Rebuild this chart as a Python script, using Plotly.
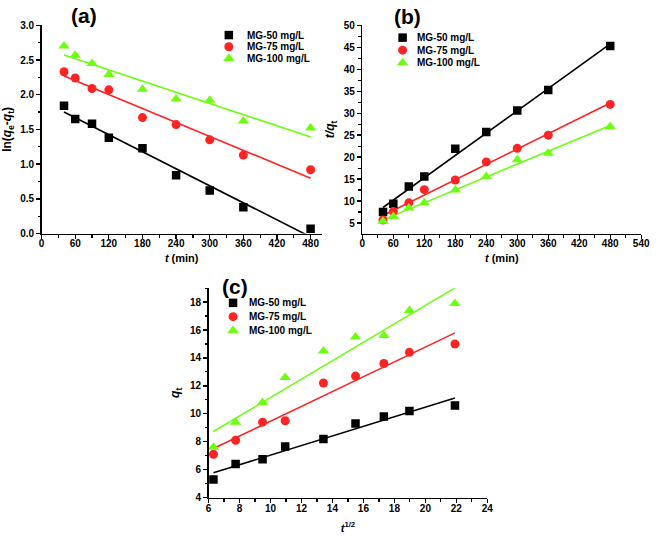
import numpy as np
import plotly.graph_objects as go

# ---------------- data ----------------
series_names = ["MG-50 mg/L", "MG-75 mg/L", "MG-100 mg/L"]
t_min = [40, 60, 90, 120, 180, 240, 300, 360, 480]

# (a) pseudo-first-order: ln(qe - qt)
a_mg50 = [1.84, 1.65, 1.58, 1.38, 1.23, 0.84, 0.62, 0.38, 0.07]
a_mg75 = [2.33, 2.24, 2.09, 2.07, 1.67, 1.57, 1.35, 1.13, 0.92]
a_mg100 = [2.70, 2.57, 2.45, 2.29, 2.08, 1.94, 1.92, 1.62, 1.52]

# (b) pseudo-second-order: t/qt
b_mg50 = [7.5, 9.4, 13.3, 15.6, 21.9, 25.7, 30.6, 35.3, 45.3]
b_mg75 = [5.7, 7.6, 9.6, 12.6, 14.8, 18.9, 22.0, 25.0, 32.0]
b_mg100 = [5.4, 6.5, 8.4, 9.6, 12.5, 15.6, 19.4, 20.9, 26.9]

# (c) intraparticle diffusion: qt vs t^1/2
c_sqrt_t = [6.32, 7.75, 9.49, 10.95, 13.42, 15.49, 17.32, 18.97, 21.91]
c_mg50 = [5.3, 6.4, 6.75, 7.65, 8.2, 9.3, 9.8, 10.2, 10.6]
c_mg75 = [7.1, 8.1, 9.4, 9.5, 12.2, 12.7, 13.6, 14.4, 15.0]
c_mg100 = [7.6, 9.4, 10.8, 12.6, 14.5, 15.5, 15.6, 17.4, 17.9]

# ---------------- styles ----------------
colors = ["#000000", "#ff2424", "#6cff10"]
symbols = ["square", "circle", "triangle-up"]
msizes = [8.5, 9, 10]
FONT = "Liberation Sans, Arial, sans-serif"

W, H = 661, 543

fig = go.Figure()

panels = [
    ("x", "y", t_min, [a_mg50, a_mg75, a_mg100]),
    ("x2", "y2", t_min, [b_mg50, b_mg75, b_mg100]),
    ("x3", "y3", c_sqrt_t, [c_mg50, c_mg75, c_mg100]),
]

for xa, ya, xs, ys_list in panels:
    xarr = np.array(xs, dtype=float)
    for i, ys in enumerate(ys_list):
        yarr = np.array(ys, dtype=float)
        k, b = np.polyfit(xarr, yarr, 1)
        xl = np.array([xarr.min(), xarr.max()])
        fig.add_trace(go.Scatter(
            x=xl, y=k * xl + b, mode="lines", xaxis=xa, yaxis=ya,
            line=dict(color=colors[i], width=1.6), showlegend=False,
            hoverinfo="skip"))
    for i, ys in enumerate(ys_list):
        fig.add_trace(go.Scatter(
            x=xs, y=ys, mode="markers", xaxis=xa, yaxis=ya,
            marker=dict(symbol=symbols[i], size=msizes[i], color=colors[i],
                        line=dict(width=0)),
            name=series_names[i], showlegend=False))

# ---------------- manual legends (pixel layout on an overlay axis) ----------------
legend_anchors = [  # (marker x, first row y, row gap, text offset)
    (230, 30.7, 11.9, 16),
    (407, 33.3, 12.8, 13),
    (234.3, 304, 14.1, 14),
]
ann = []
for (lx, ly, gap, off) in legend_anchors:
    for i, nm in enumerate(series_names):
        yy = ly + i * gap
        fig.add_trace(go.Scatter(
            x=[lx], y=[yy], mode="markers", xaxis="x4", yaxis="y4",
            marker=dict(symbol=symbols[i], size=msizes[i], color=colors[i],
                        line=dict(width=0)),
            showlegend=False, hoverinfo="skip"))
        ann.append(dict(x=(lx + off) / W, y=1 - yy / H, xref="paper", yref="paper",
                        text=nm, showarrow=False, xanchor="left", yanchor="middle",
                        font=dict(family=FONT, size=10, color="black", weight="bold")))

# panel labels
for lab, px, py in [("(a)", 83, 11), ("(b)", 412, 12), ("(c)", 236, 287)]:
    ann.append(dict(x=px / W, y=1 - py / H, xref="paper", yref="paper", text=lab,
                    showarrow=False, xanchor="center", yanchor="middle",
                    font=dict(family=FONT, size=21, color="black", weight="bold")))

tickfont = dict(family=FONT, size=10, color="black", weight="bold")
xtitlefont = dict(family=FONT, size=11, color="black", weight="bold")
ytitlefont = dict(family=FONT, size=12, color="black", weight="bold")


def axis(domain, rng, dtick, minor_dtick, title, anchor, tickformat=None,
         tick0=0, standoff=6, labshift=0, tfont=xtitlefont):
    d = dict(domain=domain, range=rng, dtick=dtick, tick0=tick0, tickmode="linear",
             showline=True, linecolor="black", linewidth=1.5, mirror=False,
             ticks="outside", ticklen=4, tickwidth=1.3, tickcolor="black",
             minor=dict(dtick=minor_dtick, ticks="outside", ticklen=2.5,
                        tickwidth=1.2, tickcolor="black", showgrid=False),
             showgrid=False, zeroline=False, tickfont=tickfont, anchor=anchor,
             ticklabelstandoff=labshift,
             title=dict(text=title, font=tfont, standoff=standoff))
    if tickformat:
        d["tickformat"] = tickformat
    return d


ya_dom = [1 - 233.3 / H, 1 - 20.7 / H]
fig.update_layout(
    width=W, height=H, margin=dict(l=0, r=0, t=0, b=0),
    paper_bgcolor="white", plot_bgcolor="rgba(0,0,0,0)",
    font=dict(family=FONT, color="black"),
    showlegend=False, hovermode=False,
    xaxis=axis([39.3 / W, 324.7 / W], [0, 500], 60, 30, "<i>t</i> (min)", "y",
               labshift=-4, standoff=6),
    yaxis=axis(ya_dom, [0, 3.0], 0.5, 0.25,
               "ln(<i>q</i><sub>e</sub>-<i>q</i><sub>t</sub>)", "x", ".1f",
               standoff=7, tfont=ytitlefont),
    xaxis2=axis([366 / W, 650 / W], [0, 540], 60, 30, "<i>t</i> (min)", "y2",
                labshift=-4, standoff=6),
    yaxis2=axis(ya_dom, [2.6, 50], 5, 2.5, "<i>t/q</i><sub>t</sub>", "x2", tick0=0,
                standoff=6, tfont=ytitlefont),
    xaxis3=axis([209.3 / W, 493.3 / W], [6, 24], 2, 1, "<i>t</i><sup>1/2</sup>", "y3",
                labshift=-3, standoff=11),
    yaxis3=axis([1 - 502.7 / H, 1 - 289 / H], [4, 19], 2, 1, "<i>q</i><sub>t</sub>", "x3",
                standoff=7, tfont=ytitlefont),
    xaxis4=dict(domain=[0, 1], range=[0, W], visible=False, anchor="y4"),
    yaxis4=dict(domain=[0, 1], range=[H, 0], visible=False, anchor="x4"),
    annotations=ann,
)

fig.write_html("out.html", config={"displayModeBar": False, "staticPlot": True},
               post_script="document.body.style.margin='0';document.body.style.overflow='hidden';")
